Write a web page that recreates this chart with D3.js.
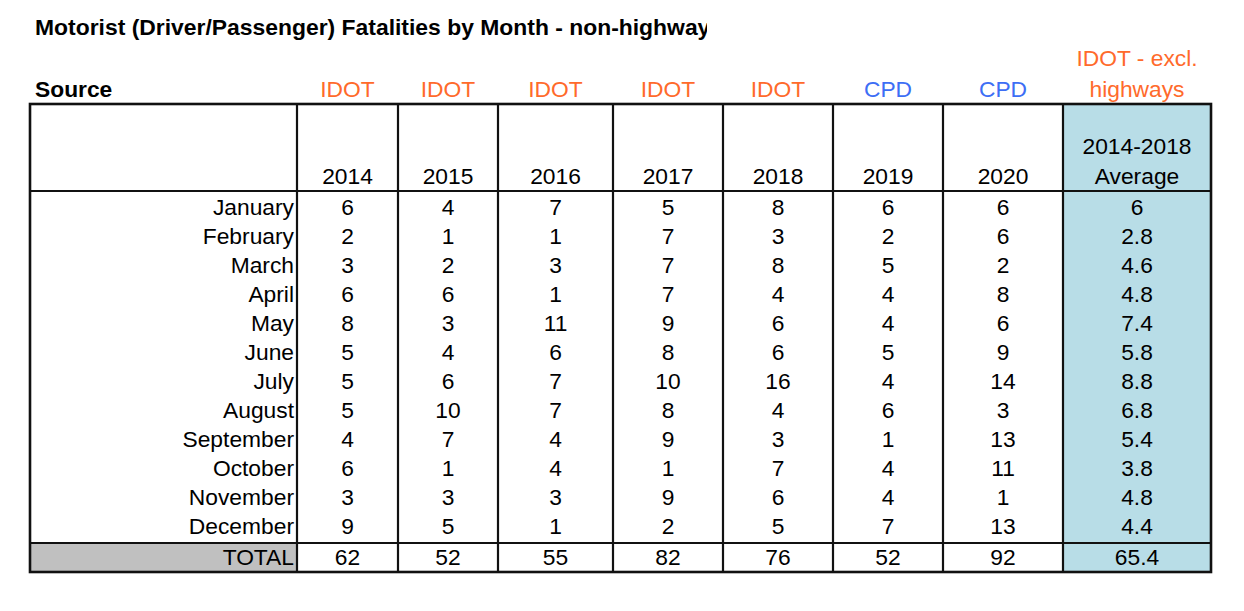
<!DOCTYPE html>
<html>
<head>
<meta charset="utf-8">
<script src="https://cdn.jsdelivr.net/npm/d3@7/dist/d3.min.js"></script>
<style>
  html, body { margin: 0; padding: 0; background: #fff; }
  svg { display: block; }
  text { font-family: "Liberation Sans", Arial, Helvetica, sans-serif; }
</style>
</head>
<body>
<svg id="chart" width="1244" height="611"></svg>
<script>
// ---- data ----
const title = "Motorist (Driver/Passenger) Fatalities by Month - non-highway";
const months = ["January","February","March","April","May","June","July","August","September","October","November","December"];
const years = ["2014","2015","2016","2017","2018","2019","2020"];
const sources = ["IDOT","IDOT","IDOT","IDOT","IDOT","CPD","CPD"];
const v2014 = [6,2,3,6,8,5,5,5,4,6,3,9];
const v2015 = [4,1,2,6,3,4,6,10,7,1,3,5];
const v2016 = [7,1,3,1,11,6,7,7,4,4,3,1];
const v2017 = [5,7,7,7,9,8,10,8,9,1,9,2];
const v2018 = [8,3,8,4,6,6,16,4,3,7,6,5];
const v2019 = [6,2,5,4,4,5,4,6,1,4,4,7];
const v2020 = [6,6,2,8,6,9,14,3,13,11,1,13];
const avgValues = [6,2.8,4.6,4.8,7.4,5.8,8.8,6.8,5.4,3.8,4.8,4.4];
const totals = [62,52,55,82,76,52,92];
const avgTotal = 65.4;
const avgSource = ["IDOT - excl.", "highways"];
const avgHeader = ["2014-2018", "Average"];

// ---- layout ----
const svg = d3.select("#chart");
const ORANGE = "#ff6a2b", BLUE = "#3d6ef5", LIGHTBLUE = "#b8dde7", GREY = "#c0c0c0";
const FS = 22.8;

const colKeys = ["label", ...years, "avg"];
const colEdges = [30, 297, 398, 498, 613, 723, 833, 943, 1063, 1211];
const xLeft = d3.scaleOrdinal().domain(colKeys).range(colEdges.slice(0, -1));
const xRight = d3.scaleOrdinal().domain(colKeys).range(colEdges.slice(1));
const xMid = k => (xLeft(k) + xRight(k)) / 2;

const tableTop = 104, headBottom = 191, dataBottom = 543, tableBottom = 572;
const rowBase = d3.scalePoint().domain(months).range([214.5, 533.5]);

const seriesValues = [v2014, v2015, v2016, v2017, v2018, v2019, v2020];

// fills
svg.append("rect").attr("x", xLeft("avg")).attr("y", tableTop)
  .attr("width", xRight("avg") - xLeft("avg")).attr("height", tableBottom - tableTop)
  .attr("fill", LIGHTBLUE);
svg.append("rect").attr("x", xLeft("label")).attr("y", dataBottom)
  .attr("width", xRight("label") - xLeft("label")).attr("height", tableBottom - dataBottom)
  .attr("fill", GREY);

// title (clipped like the source)
svg.append("clipPath").attr("id", "tclip").append("rect")
  .attr("x", 0).attr("y", 0).attr("width", 707).attr("height", 60);
svg.append("text").attr("clip-path", "url(#tclip)")
  .attr("x", 35).attr("y", 35).attr("font-size", 22.9).attr("font-weight", "bold")
  .attr("fill", "#000").text(title);

// Source row
svg.append("text").attr("x", 35).attr("y", 97).attr("font-size", 22.8)
  .attr("font-weight", "bold").text("Source");
svg.selectAll("text.src").data(years).join("text").attr("class", "src")
  .attr("x", d => xMid(d)).attr("y", 97).attr("text-anchor", "middle")
  .attr("font-size", FS).attr("fill", (d, i) => sources[i] === "CPD" ? BLUE : ORANGE)
  .text((d, i) => sources[i]);
svg.selectAll("text.avgsrc").data(avgSource).join("text").attr("class", "avgsrc")
  .attr("x", xMid("avg")).attr("y", (d, i) => 66 + i * 31).attr("text-anchor", "middle")
  .attr("font-size", FS).attr("fill", ORANGE).text(d => d);

// header
svg.selectAll("text.yr").data(years).join("text").attr("class", "yr")
  .attr("x", d => xMid(d)).attr("y", 184).attr("text-anchor", "middle")
  .attr("font-size", FS).text(d => d);
svg.selectAll("text.avghead").data(avgHeader).join("text").attr("class", "avghead")
  .attr("x", xMid("avg")).attr("y", (d, i) => 154 + i * 30).attr("text-anchor", "middle")
  .attr("font-size", FS).text(d => d);

// month labels
svg.selectAll("text.month").data(months).join("text").attr("class", "month")
  .attr("x", xRight("label") - 3).attr("y", d => rowBase(d)).attr("text-anchor", "end")
  .attr("font-size", FS).text(d => d);

// values
years.forEach((yr, j) => {
  svg.selectAll("text.v" + yr).data(seriesValues[j]).join("text").attr("class", "v" + yr)
    .attr("x", xMid(yr)).attr("y", (d, i) => rowBase(months[i])).attr("text-anchor", "middle")
    .attr("font-size", FS).text(d => d);
});
svg.selectAll("text.avgv").data(avgValues).join("text").attr("class", "avgv")
  .attr("x", xMid("avg")).attr("y", (d, i) => rowBase(months[i])).attr("text-anchor", "middle")
  .attr("font-size", FS).text(d => d);

// totals row
const totBase = 565;
svg.append("text").attr("x", xRight("label") - 3).attr("y", totBase).attr("text-anchor", "end")
  .attr("font-size", FS).text("TOTAL");
svg.selectAll("text.tot").data(totals).join("text").attr("class", "tot")
  .attr("x", (d, i) => xMid(years[i])).attr("y", totBase).attr("text-anchor", "middle")
  .attr("font-size", FS).text(d => d);
svg.append("text").attr("x", xMid("avg")).attr("y", totBase).attr("text-anchor", "middle")
  .attr("font-size", FS).text(avgTotal);

// grid lines
const g = svg.append("g").attr("stroke", "#111").attr("fill", "none");
colEdges.slice(1, -1).forEach(x => {
  g.append("line").attr("x1", x).attr("x2", x).attr("y1", tableTop).attr("y2", tableBottom)
    .attr("stroke-width", 2.2);
});
[headBottom, dataBottom].forEach(yy => {
  g.append("line").attr("x1", colEdges[0]).attr("x2", colEdges[colEdges.length - 1])
    .attr("y1", yy).attr("y2", yy).attr("stroke-width", 2.2);
});
g.append("rect").attr("x", colEdges[0]).attr("y", tableTop)
  .attr("width", colEdges[colEdges.length - 1] - colEdges[0]).attr("height", tableBottom - tableTop)
  .attr("stroke-width", 2.6);
</script>
</body>
</html>
